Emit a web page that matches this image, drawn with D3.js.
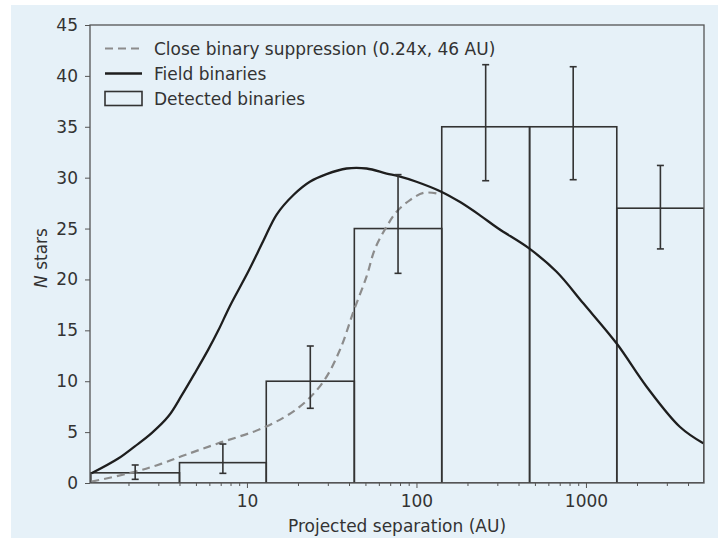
<!DOCTYPE html>
<html>
<head>
<meta charset="utf-8">
<script src="https://cdn.jsdelivr.net/npm/d3@7"></script>
<style>
  body { margin: 0; background: #fff; }
  svg { display: block; font-family: "DejaVu Sans", sans-serif; }
</style>
</head>
<body>
<svg id="chart" width="718" height="538"></svg>
<script>
// histogram bins (AU) and counts
var binEdges = [1.2, 4.0, 13, 43, 141, 465, 1520, 4970];
var binCounts = [1, 2, 10, 25, 35, 35, 27];
var errLow = [0.36, 0.95, 7.34, 20.6, 29.7, 29.8, 23.0];
var errHigh = [1.77, 3.83, 13.46, 30.3, 41.1, 40.9, 31.2];

// field binaries curve
var fieldAU = [1.21, 1.74, 2.18, 2.74, 3.44, 4.12, 4.93, 5.91, 6.78, 7.94, 10.2, 12.5, 15.0, 18.8, 23.5, 29.5, 38.7, 50.8, 66.7, 78.2, 100, 141, 181, 237, 304, 462, 671, 964, 1518, 2280, 3590, 4920];
var fieldN  = [0.95, 2.4, 3.6, 4.9, 6.55, 8.6, 10.8, 13.1, 15.0, 17.4, 20.8, 23.8, 26.4, 28.3, 29.6, 30.35, 30.9, 30.9, 30.4, 30.15, 29.6, 28.6, 27.6, 26.3, 25.0, 23.05, 20.75, 17.65, 13.7, 9.46, 5.5, 3.9];

// close binary suppression curve
var closeAU = [1.21, 2.18, 3.14, 4.31, 6.78, 12.8, 20.5, 28.2, 35.4, 42.4, 50.8, 56.9, 66.7, 76.4, 91.6, 110, 131, 139];
var closeN  = [0.13, 1.1, 1.9, 2.75, 3.9, 5.5, 7.5, 9.95, 13.1, 16.8, 20.3, 23.0, 25.2, 26.65, 27.8, 28.5, 28.45, 28.3];

var yTicks = [0, 5, 10, 15, 20, 25, 30, 35, 40, 45];
var xMajor = [10, 100, 1000];

var legendItems = [
  {kind: "dash", label: "Close binary suppression (0.24x, 46 AU)"},
  {kind: "line", label: "Field binaries"},
  {kind: "box", label: "Detected binaries"}
];

var svg = d3.select("#chart");
// plot box (note: "top" is taken by window.top, so prefix these)
var pLeft = 90, pRight = 704, pTop = 25, pBottom = 483;
var ink = "#333", fs = 17;

svg.append("rect").attr("x", 11).attr("y", 5).attr("width", 707).attr("height", 533)
  .attr("fill", "#e6f1f8");

var x = d3.scaleLog().domain([1.186, 4970]).range([pLeft, pRight]);
var y = d3.scaleLinear().domain([0, 45]).range([pBottom, pTop]);

svg.append("clipPath").attr("id", "plotclip").append("rect")
  .attr("x", pLeft).attr("y", pTop).attr("width", pRight - pLeft).attr("height", pBottom - pTop);

var plot = svg.append("g").attr("clip-path", "url(#plotclip)");

// bars
var bins = binCounts.map(function(c, i) {
  return {x0: binEdges[i], x1: binEdges[i + 1], n: c, lo: errLow[i], hi: errHigh[i]};
});
plot.selectAll(".bar").data(bins).enter().append("rect")
  .attr("class", "bar")
  .attr("x", function(d) { return x(d.x0); })
  .attr("width", function(d) { return x(d.x1) - x(d.x0); })
  .attr("y", function(d) { return y(d.n); })
  .attr("height", function(d) { return y(0) - y(d.n); })
  .attr("fill", "none").attr("stroke", ink).attr("stroke-width", 1.6);

// curves
var line = d3.line().curve(d3.curveCatmullRom.alpha(0.5));
var closePts = closeAU.map(function(a, i) { return [x(a), y(closeN[i])]; });
var fieldPts = fieldAU.map(function(a, i) { return [x(a), y(fieldN[i])]; });

plot.append("path").attr("d", line(closePts))
  .attr("fill", "none").attr("stroke", "#8c8c8c").attr("stroke-width", 2.2)
  .attr("stroke-dasharray", "8,5");
plot.append("path").attr("d", line(fieldPts))
  .attr("fill", "none").attr("stroke", "#1e1e1e").attr("stroke-width", 2.3);

// error bars
var eb = svg.append("g").attr("stroke", ink).attr("stroke-width", 1.6);
bins.forEach(function(d) {
  var cx = x(Math.sqrt(d.x0 * d.x1));
  eb.append("line").attr("x1", cx).attr("x2", cx).attr("y1", y(d.lo)).attr("y2", y(d.hi));
  eb.append("line").attr("x1", cx - 3.5).attr("x2", cx + 3.5).attr("y1", y(d.lo)).attr("y2", y(d.lo));
  eb.append("line").attr("x1", cx - 3.5).attr("x2", cx + 3.5).attr("y1", y(d.hi)).attr("y2", y(d.hi));
});

// axes
svg.append("g").attr("transform", "translate(" + pLeft + ",0)")
  .call(d3.axisLeft(y).tickValues(yTicks).tickSize(5).tickPadding(7));
svg.append("g").attr("transform", "translate(0," + pBottom + ")")
  .call(d3.axisBottom(x).tickValues(xMajor).tickFormat(d3.format("d")).tickSize(5).tickPadding(7));

var minor = [];
[1, 10, 100, 1000].forEach(function(dec) {
  for (var k = 2; k <= 9; k++) {
    var v = dec * k;
    if (v > 1.186 && v < 4970) minor.push(v);
  }
});
svg.append("g").attr("transform", "translate(0," + pBottom + ")")
  .call(d3.axisBottom(x).tickValues(minor).tickFormat("").tickSize(3));

svg.selectAll(".tick line").attr("stroke", "#555");
svg.selectAll(".tick text").attr("fill", "#333").attr("font-size", fs)
  .attr("font-family", "DejaVu Sans, sans-serif");
svg.selectAll(".domain").remove();

// frame
svg.append("rect").attr("x", pLeft).attr("y", pTop).attr("width", pRight - pLeft).attr("height", pBottom - pTop)
  .attr("fill", "none").attr("stroke", "#555").attr("stroke-width", 1.3);

// labels
svg.append("text").attr("x", (pLeft + pRight) / 2).attr("y", 532).attr("text-anchor", "middle")
  .attr("font-size", fs).attr("fill", "#333").text("Projected separation (AU)");

var yl = svg.append("text").attr("transform", "translate(47," + ((pTop + pBottom) / 2 + 4) + ") rotate(-90)")
  .attr("text-anchor", "middle").attr("font-size", fs).attr("fill", "#333");
yl.append("tspan").attr("font-style", "italic").text("N");
yl.append("tspan").text(" stars");

// legend
var lg = svg.append("g").attr("transform", "translate(105,48.5)");
var row = lg.selectAll(".lrow").data(legendItems).enter().append("g")
  .attr("transform", function(d, i) { return "translate(0," + (i * 25) + ")"; });
row.each(function(d) {
  var g = d3.select(this);
  if (d.kind === "dash") {
    g.append("line").attr("x1", 0).attr("x2", 37).attr("stroke", "#8c8c8c")
      .attr("stroke-width", 2.2).attr("stroke-dasharray", "8,5");
  } else if (d.kind === "line") {
    g.append("line").attr("x1", 0).attr("x2", 37).attr("stroke", "#1e1e1e").attr("stroke-width", 2.3);
  } else {
    g.append("rect").attr("x", 0).attr("y", -7).attr("width", 37).attr("height", 14)
      .attr("fill", "none").attr("stroke", ink).attr("stroke-width", 1.6);
  }
  g.append("text").attr("x", 49).attr("y", 6.5).attr("font-size", fs).attr("fill", "#333").text(d.label);
});
</script>
</body>
</html>
